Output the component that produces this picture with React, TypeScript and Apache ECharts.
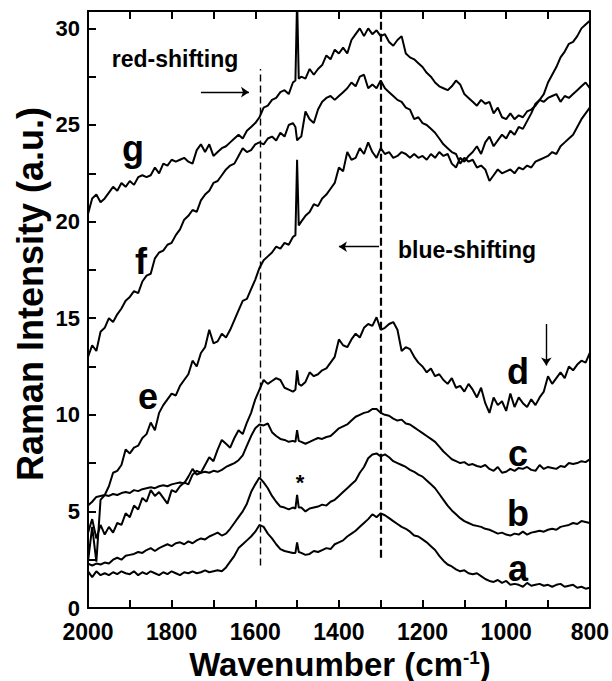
import { useEffect, useRef } from "react";
import * as echarts from "echarts";

// Raman shift grid (cm^-1); a finer step around the 1500 cm^-1 line
const wavenumbers = [
  2000, 1990, 1980, 1970, 1960, 1950, 1940, 1930, 1920, 1910,
  1900, 1890, 1880, 1870, 1860, 1850, 1840, 1830, 1820, 1810,
  1800, 1790, 1780, 1770, 1760, 1750, 1740, 1730, 1720, 1710,
  1700, 1690, 1680, 1670, 1660, 1650, 1640, 1630, 1620, 1610,
  1600, 1590, 1580, 1570, 1560, 1550, 1540, 1530, 1520, 1510,
  1504, 1500, 1496,
  1490, 1480, 1470, 1460, 1450, 1440, 1430, 1420, 1410, 1400,
  1390, 1380, 1370, 1360, 1350, 1340, 1330, 1320, 1310, 1300,
  1290, 1280, 1270, 1260, 1250, 1240, 1230, 1220, 1210, 1200,
  1190, 1180, 1170, 1160, 1150, 1140, 1130, 1120, 1110, 1100,
  1090, 1080, 1070, 1060, 1050, 1040, 1030, 1020, 1010, 1000,
  990, 980, 970, 960, 950, 940, 930, 920, 910, 900,
  890, 880, 870, 860, 850, 840, 830, 820, 810, 800,
];

const spectrumA = [
  1.9, 1.6, 1.9, 1.7, 1.8, 1.7, 1.85, 1.75, 1.9, 1.8,
  1.75, 1.9, 1.7, 1.85, 1.75, 1.9, 1.8, 1.7, 1.85, 1.75,
  1.9, 1.8, 1.7, 1.85, 1.8, 1.9, 1.8, 1.85, 1.95, 1.85,
  1.9, 1.95, 1.9, 2.1, 2.4, 2.7, 3.1, 3.3, 3.5, 3.7,
  3.95, 4.3, 4.2, 3.85, 3.6, 3.3, 3.05, 2.95, 2.9, 2.85,
  2.85, 3.4, 2.9,
  2.85, 2.75, 2.8, 2.95, 2.9, 3.0, 3.1, 3.05, 3.3, 3.4,
  3.5, 3.7, 3.85, 4.0, 4.2, 4.4, 4.6, 4.85, 4.7, 4.9,
  4.8, 4.65, 4.5, 4.35, 4.2, 4.1, 3.95, 3.75, 3.7, 3.55,
  3.4, 3.2, 3.0, 2.7, 2.45, 2.25, 2.15, 2.0, 1.9, 1.95,
  1.8, 1.75, 1.8, 1.65, 1.5, 1.4, 1.35, 1.45, 1.3, 1.4,
  1.2, 1.25, 1.2, 1.1, 1.3, 1.15, 1.2, 1.25, 1.15, 1.2,
  1.1, 1.2, 1.25, 1.1, 1.15, 1.2, 1.05, 1.1, 1.0, 1.05,
];

const spectrumB = [
  2.3, 2.2, 2.3, 2.25, 2.35, 2.3, 2.5, 2.6, 2.5, 2.7,
  2.75, 2.8, 2.9, 2.85, 3.0, 3.1, 2.95, 3.1, 3.2, 3.3,
  3.2, 3.35, 3.4, 3.3, 3.45, 3.35, 3.5, 3.6, 3.55, 3.7,
  3.8, 3.9, 3.75, 3.85, 4.1, 4.4, 4.7, 5.0, 5.4, 6.0,
  6.4, 6.75, 6.5, 6.2, 5.8, 5.5, 5.25, 5.2, 5.1, 5.2,
  5.15, 5.85, 5.2,
  5.2, 5.0, 5.15, 5.2, 5.25, 5.35, 5.3, 5.5, 5.6, 5.8,
  6.0, 6.2, 6.4, 6.6, 7.0, 7.3, 7.75, 7.95, 8.0, 7.85,
  7.95, 7.8, 7.6, 7.5, 7.4, 7.3, 7.15, 7.05, 6.9, 6.8,
  6.6, 6.4, 6.2, 5.9, 5.6, 5.3, 5.05, 4.85, 4.65, 4.5,
  4.4, 4.3, 4.25, 4.2, 4.1, 4.05, 3.95, 3.85, 3.9, 3.8,
  3.75, 3.85, 3.8, 3.95, 3.8, 3.9, 3.95, 4.0, 3.95, 4.05,
  4.1, 4.05, 4.2, 4.25, 4.3, 4.4, 4.35, 4.5, 4.45, 4.4,
];

const spectrumC = [
  5.3, 5.5, 5.75, 5.8, 5.85, 5.8, 5.9, 5.85, 5.95, 6.0,
  5.95, 6.1, 6.05, 6.15, 6.2, 6.25, 6.2, 6.3, 6.35, 6.3,
  6.4, 6.45, 6.5, 6.45, 6.8, 7.2, 6.9, 7.0, 7.05, 7.0,
  7.1, 7.05, 7.15, 7.3, 7.4, 7.5, 7.65, 7.9, 8.4, 8.9,
  9.3, 9.5, 9.45, 9.55, 9.1, 8.9, 8.75, 8.7, 8.6, 8.65,
  8.6, 9.2, 8.65,
  8.6, 8.5, 8.6, 8.7, 8.8, 8.75, 8.85, 8.9, 9.1, 9.3,
  9.4, 9.5, 9.7, 9.9, 10.0, 10.1, 10.15, 10.3, 10.3, 10.1,
  10.0, 9.95, 9.8, 9.7, 9.75, 9.55, 9.5, 9.35, 9.2, 9.05,
  8.9, 8.75, 8.6, 8.35, 8.1, 7.9, 7.7, 7.6, 7.5, 7.55,
  7.4, 7.45, 7.35, 7.3, 7.4, 7.2, 7.1, 7.3, 7.0, 7.05,
  7.2, 7.1, 7.25, 7.2, 7.3, 7.15, 7.1, 7.4, 7.2, 7.3,
  7.25, 7.2, 7.35, 7.3, 7.5, 7.45, 7.5, 7.6, 7.55, 7.7,
];

const spectrumD = [
  3.9, 4.6, 3.6, 4.3, 3.8, 4.2, 3.9, 4.4, 4.3, 4.9,
  4.7, 5.3, 5.1, 5.7, 5.5, 6.1, 5.8, 6.0, 5.7, 5.4,
  6.1, 6.0, 6.3, 6.5, 6.4, 6.9, 7.1, 7.0, 7.4, 7.8,
  7.6, 8.2, 8.7, 8.5, 8.3, 8.8, 9.2, 9.0, 9.6, 10.1,
  10.8, 11.3, 11.8, 11.6, 11.75, 11.9, 11.8, 11.4, 11.3, 11.2,
  11.3, 12.3, 11.6,
  11.5, 11.7, 12.2, 12.0, 12.1, 12.3, 12.4, 12.7, 13.0, 13.9,
  13.6, 13.5, 13.9, 14.2, 14.0, 14.5, 14.7, 14.6, 15.05, 14.4,
  14.5, 14.7, 14.8, 14.4, 13.3, 13.5, 13.4, 13.0, 12.7, 12.5,
  12.2, 12.4, 12.0, 12.1, 11.8, 11.6, 11.9, 11.4, 11.5, 11.2,
  11.6, 11.3, 10.9, 11.4, 10.6, 10.1, 10.9, 10.5, 10.7, 10.2,
  11.1, 10.4, 10.9, 10.6, 10.4, 10.8, 10.5, 10.9, 11.2, 12.0,
  11.6, 11.9, 12.2, 11.9, 12.5, 12.3, 12.6, 12.8, 12.7, 13.2,
];

const spectrumE = [
  2.4, 4.2, 2.4, 5.6, 5.85, 6.3, 7.0, 7.1, 7.4, 8.2,
  8.0, 8.3, 8.4, 8.8, 9.0, 9.6, 9.2, 10.1, 10.5, 10.8,
  11.1, 11.0, 11.5, 11.8, 12.1, 12.8, 12.5, 13.2, 13.5, 14.4,
  13.7, 13.8, 14.2, 14.0, 14.4, 14.9, 15.4, 15.9, 16.0, 16.5,
  17.0, 17.6, 18.0, 18.2, 18.4, 18.7, 18.6, 18.9, 18.8, 19.2,
  19.3, 23.2, 19.8,
  20.0, 20.3, 20.5, 20.9, 20.8, 21.2, 21.4, 21.7, 22.0, 22.8,
  22.6, 23.6, 23.2, 23.3, 23.8, 23.5, 24.1, 23.6, 23.3, 23.8,
  23.5, 23.6, 23.3, 23.4, 23.6, 23.5, 23.3, 23.5, 23.3, 23.4,
  23.2, 23.5, 23.3, 23.6, 23.4, 23.5, 23.0, 22.8, 23.3, 23.1,
  23.4, 23.6, 23.9, 23.5, 24.1, 24.4, 23.9, 24.2, 24.5, 24.3,
  24.7, 24.5, 24.9, 24.8, 25.2, 25.6, 26.1, 26.3, 26.2, 26.4,
  26.5, 26.6, 26.2, 26.5, 26.4, 26.6, 26.8, 27.0, 27.2, 26.9,
];

const spectrumF = [
  13.0, 13.6, 13.3, 14.3, 14.5, 15.0, 14.8, 15.2, 15.5, 15.9,
  16.1, 16.4, 16.3, 16.9, 17.2, 17.3, 18.1, 18.4, 18.5, 18.8,
  18.9, 19.3, 19.6, 20.1, 20.3, 20.6, 20.5, 21.1, 21.4, 21.6,
  22.0, 22.1, 22.4, 22.7, 22.9, 23.0, 23.4, 23.8, 23.6, 23.7,
  24.0, 24.1, 24.0, 24.3, 24.4, 24.2, 24.6, 24.4, 25.0, 25.1,
  24.9, 24.2, 24.3,
  24.4, 25.7, 25.3, 25.1, 25.8, 26.2, 26.4, 26.5, 26.3, 26.5,
  26.7, 26.9, 27.2, 27.0, 27.5, 27.6, 26.9, 27.1, 26.9, 27.3,
  26.9, 26.7, 26.5, 26.3, 26.2, 25.9, 25.8, 25.3, 25.4, 25.1,
  25.0, 24.8, 24.6, 24.3, 24.0, 23.8, 23.6, 23.5, 23.0, 23.3,
  23.1, 23.2, 22.8, 22.9, 22.7, 22.1, 22.4, 22.7, 22.5, 22.6,
  22.7, 22.5, 22.8, 22.7, 22.9, 22.8, 23.1, 23.2, 23.3, 23.4,
  23.6, 23.5, 23.9, 24.1, 24.3, 24.5, 24.9, 25.3, 25.6, 25.9,
];

const spectrumG = [
  20.4, 21.2, 21.4, 21.0, 21.2, 21.5, 21.8, 21.6, 22.0, 21.8,
  22.1, 21.9, 22.3, 22.4, 22.3, 22.4, 22.8, 22.5, 23.0, 22.9,
  23.2, 23.1, 23.2, 23.3, 23.1, 23.0, 23.7, 24.0, 23.6, 24.0,
  23.4, 23.6, 23.8, 23.9, 24.1, 24.3, 24.5, 24.3, 24.7, 24.9,
  25.1, 25.4, 25.9, 26.0, 26.3, 26.4, 26.7, 26.8, 26.6, 27.2,
  27.3, 31.5, 27.4,
  27.5, 27.4, 27.9, 27.6, 27.9, 28.1, 28.6, 28.4, 28.9, 28.7,
  29.0, 28.7, 29.4, 29.7, 30.0, 29.6, 30.0, 29.7, 29.9, 29.6,
  29.7, 29.3, 29.1, 29.4, 29.6, 28.7, 28.5, 28.4, 28.2, 28.0,
  27.7, 27.5, 27.2, 27.0, 26.9, 26.8, 27.0, 27.3, 27.1, 26.6,
  26.4, 26.2, 26.0, 26.3, 26.1, 26.2, 25.6, 25.9, 25.4, 25.3,
  25.6, 25.3, 25.5, 25.4, 25.7, 25.8, 26.0, 26.3, 26.6, 27.2,
  27.6, 28.0, 28.5, 28.8, 29.2, 29.3, 29.6, 30.0, 30.2, 30.4,
];

const spectra = [spectrumA, spectrumB, spectrumC, spectrumD, spectrumE, spectrumF, spectrumG];
const curveNames = ["a", "b", "c", "d", "e", "f", "g"];

// Reference band positions (cm^-1) marked with dashed lines: [position, from, to]
const bandMarkers: [number, number, number][] = [
  [1587, 2.2, 27.9],
  [1300, 2.6, 30.9],
];

const FONT = '"Liberation Sans", Arial, Helvetica, sans-serif';

// pixel anchors of the curve letters
const letterPos: Record<string, [number, number]> = {
  a: [518, 568],
  b: [518, 513],
  c: [518, 453],
  d: [518, 371],
  e: [148, 396],
  f: [141, 261],
  g: [133, 148],
};

export default function App() {
  const ref = useRef<HTMLDivElement>(null);

  useEffect(() => {
    if (!ref.current) return;
    const chart = echarts.init(ref.current, undefined, { renderer: "svg" });

    const axisLine = { show: true, onZero: false, lineStyle: { color: "#000", width: 2 } };
    const tick = { show: true, inside: true, length: 8, lineStyle: { color: "#000", width: 2 } };
    const labelFont = { color: "#000", fontFamily: FONT, fontWeight: "bold" as const };

    const series: any[] = spectra.map((vals, k) => ({
      name: curveNames[k],
      type: "line",
      xAxisIndex: 0,
      yAxisIndex: 0,
      showSymbol: false,
      symbol: "none",
      clip: true,
      silent: true,
      lineStyle: { color: "#000", width: 2 },
      data: wavenumbers.map((w, i) => [w, vals[i]]),
    }));

    series[0].markLine = {
      silent: true,
      symbol: "none",
      label: { show: false },
      data: bandMarkers.map(([w, y0, y1], i) => [
        {
          coord: [w, y0],
          lineStyle: { color: "#000", type: i === 0 ? [7, 4] : [8, 4], width: i === 0 ? 1.4 : 2.2 },
        },
        { coord: [w, y1] },
      ]),
    };

    // shift arrows
    series[1].markLine = {
      silent: true,
      symbol: ["none", "arrow"],
      symbolSize: 8,
      label: { show: false },
      lineStyle: { color: "#000", type: "solid", width: 1.4 },
      data: [
        [{ coord: [1730, 26.7] }, { coord: [1615, 26.7] }],
        [{ coord: [1304, 18.7] }, { coord: [1400, 18.7] }],
        [{ coord: [904, 14.7] }, { coord: [904, 12.55] }],
      ],
    };

    const graphic: any[] = curveNames.map((n) => ({
      type: "text",
      x: letterPos[n][0],
      y: letterPos[n][1],
      silent: true,
      style: {
        text: n,
        fill: "#000",
        fontFamily: FONT,
        fontWeight: "bold",
        fontSize: 36,
        align: "center",
        verticalAlign: "middle",
      },
    }));

    graphic.push(
      {
        type: "text",
        x: 175,
        y: 59,
        silent: true,
        style: { text: "red-shifting", fill: "#000", fontFamily: FONT, fontWeight: "bold", fontSize: 23, align: "center", verticalAlign: "middle" },
      },
      {
        type: "text",
        x: 467,
        y: 250,
        silent: true,
        style: { text: "blue-shifting", fill: "#000", fontFamily: FONT, fontWeight: "bold", fontSize: 23, align: "center", verticalAlign: "middle" },
      },
      {
        type: "text",
        x: 300,
        y: 482,
        silent: true,
        style: { text: "*", fill: "#000", fontFamily: FONT, fontWeight: "bold", fontSize: 22, align: "center", verticalAlign: "middle" },
      },
      {
        type: "text",
        x: 340,
        y: 664,
        silent: true,
        style: {
          text: "Wavenumber (cm{sup|-1})",
          fill: "#000",
          fontFamily: FONT,
          fontWeight: "bold",
          fontSize: 33,
          align: "center",
          verticalAlign: "middle",
          rich: {
            sup: { fontFamily: FONT, fontWeight: "bold", fontSize: 19, fill: "#000", verticalAlign: "top", lineHeight: 19 },
          },
        },
      },
      {
        type: "text",
        x: 30,
        y: 294,
        rotation: Math.PI / 2,
        silent: true,
        style: {
          text: "Raman Intensity (a.u.)",
          fill: "#000",
          fontFamily: FONT,
          fontWeight: "bold",
          fontSize: 36,
          align: "center",
          verticalAlign: "middle",
        },
      }
    );

    chart.setOption({
      animation: false,
      backgroundColor: "#fff",
      grid: { left: 88, right: 22, top: 11, bottom: 73, containLabel: false },
      xAxis: [
        {
          type: "value",
          position: "bottom",
          min: 800,
          max: 2000,
          interval: 100,
          inverse: true,
          axisLine,
          axisTick: tick,
          splitLine: { show: false },
          axisLabel: {
            ...labelFont,
            fontSize: 23,
            margin: 12,
            formatter: (v: number) => (v % 200 === 0 ? String(v) : ""),
          },
        },
        {
          type: "value",
          position: "top",
          min: 800,
          max: 2000,
          interval: 100,
          inverse: true,
          axisLine,
          axisTick: tick,
          splitLine: { show: false },
          axisLabel: { show: false },
        },
      ],
      yAxis: [
        {
          type: "value",
          position: "left",
          min: 0,
          max: 30.9,
          interval: 2.5,
          axisLine,
          axisTick: tick,
          splitLine: { show: false },
          axisLabel: {
            ...labelFont,
            fontSize: 22,
            margin: 8,
            formatter: (v: number) => (v % 5 === 0 ? String(v) : ""),
          },
        },
        {
          type: "value",
          position: "right",
          min: 0,
          max: 30.9,
          axisLine,
          axisTick: { show: false },
          splitLine: { show: false },
          axisLabel: { show: false },
        },
      ],
      graphic,
      series,
    });

    return () => chart.dispose();
  }, []);

  return (
    <div
      ref={ref}
      style={{ position: "fixed", left: 0, top: 0, width: 612, height: 681, background: "#fff" }}
    />
  );
}
